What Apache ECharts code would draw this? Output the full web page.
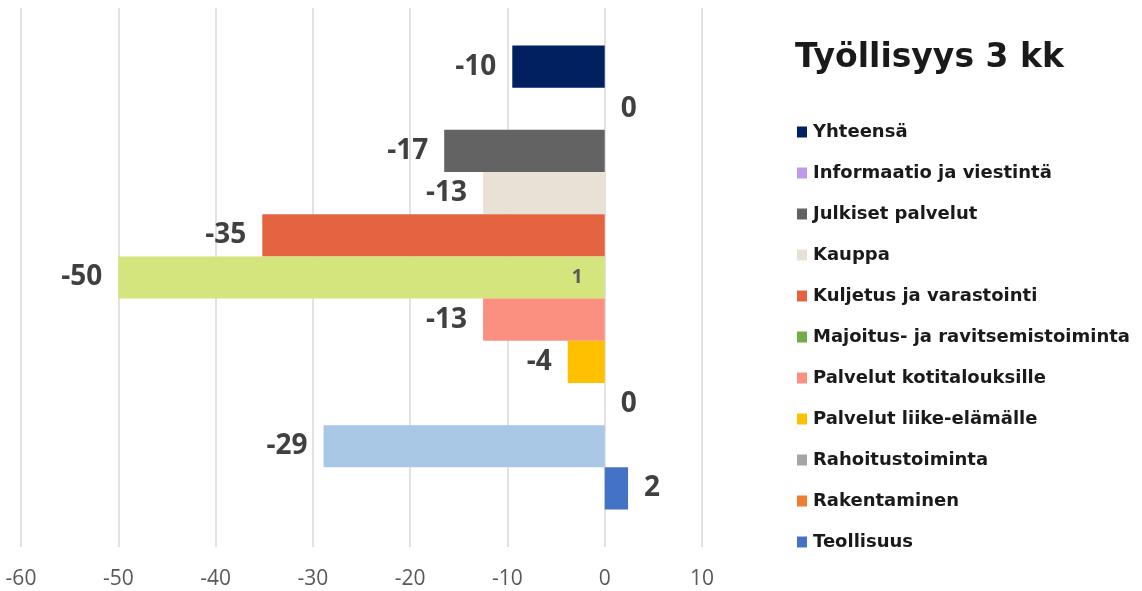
<!DOCTYPE html>
<html>
<head>
<meta charset="utf-8">
<script src="https://cdn.jsdelivr.net/npm/echarts@6/dist/echarts.min.js"></script>
<style>
html, body { margin: 0; padding: 0; background: #fff; }
#chart { width: 1142px; height: 591px; }
</style>
</head>
<body>
<div id="chart"></div>
<script>
// toimialat ylhäältä alas
var toimialat = ['Yhteensä', 'Informaatio ja viestintä', 'Julkiset palvelut', 'Kauppa',
  'Kuljetus ja varastointi', 'Majoitus- ja ravitsemistoiminta', 'Palvelut kotitalouksille',
  'Palvelut liike-elämälle', 'Rahoitustoiminta', 'Rakentaminen', 'Teollisuus'];
var muutos = [-9.5, 0, -16.5, -12.5, -35.2, -50, -12.5, -3.8, 0, -28.9, 2.4];
var legendColors = ['#002060', '#bf9ae8', '#636363', '#e7e0d5', '#e46240', '#70ad47',
  '#fb9080', '#ffc000', '#a5a5a5', '#ed7d31', '#4472c4'];
var barColors = ['#002060', '#bf9ae8', '#636363', '#e8e2d6', '#e46341', '#d4e57d',
  '#fb9080', '#ffc000', '#a5a5a5', '#a8c8e6', '#4472c4'];
var xTicks = [-60, 10, 10]; // min, max, interval
var lisaLabel = '1'; // pieni lisäotsake Majoitus-palkissa

function excelRound(v) {
  var r = Math.round(Math.abs(v));
  return v < 0 ? -r : r;
}

var mychart = echarts.init(document.getElementById('chart'));

var series = [];
for (let i = 0; i < toimialat.length; i++) {
  if (i === 5) {
    // apusarja samaan pinoon, vain otsake "1"
    series.push({
      name: 'apu',
      type: 'bar',
      stack: 'maj',
      data: [0],
      itemStyle: { color: 'transparent' },
      label: {
        show: true,
        position: 'left',
        distance: 22,
        formatter: lisaLabel,
        fontFamily: 'Open Sans',
        fontWeight: 'bold',
        fontSize: 19,
        color: '#595959'
      },
      silent: true
    });
  }
  series.push({
    name: toimialat[i],
    type: 'bar',
    stack: i === 5 ? 'maj' : 's' + i,
    barGap: '0%',
    barCategoryGap: '13.9%',
    itemStyle: { color: legendColors[i] },
    data: [{
      value: muutos[i],
      itemStyle: { color: barColors[i] },
      label: { position: muutos[i] < 0 ? 'left' : 'right' }
    }],
    label: {
      show: true,
      distance: 16,
      fontFamily: 'Open Sans',
      fontWeight: 'bold',
      fontSize: 28,
      color: '#404040',
      formatter: function (p) { return String(excelRound(p.value)); }
    }
  });
}

mychart.setOption({
  animation: false,
  title: {
    text: 'Työllisyys 3 kk',
    left: 790,
    top: 37,
    textStyle: {
      fontFamily: 'DejaVu Sans',
      fontWeight: 'bold',
      fontSize: 33,
      color: '#1a1a1a'
    }
  },
  legend: {
    data: toimialat,
    orient: 'vertical',
    left: 792,
    top: 117,
    itemWidth: 10,
    itemHeight: 11,
    itemGap: 21,
    icon: 'rect',
    textStyle: {
      fontFamily: 'DejaVu Sans',
      fontWeight: 'bold',
      fontSize: 18,
      lineHeight: 20,
      color: '#1a1a1a',
      padding: [0, 0, 0, 1]
    }
  },
  grid: {
    left: 21,
    right: 440,
    top: 8,
    bottom: 44,
    containLabel: false
  },
  xAxis: {
    type: 'value',
    min: xTicks[0],
    max: xTicks[1],
    interval: xTicks[2],
    axisLine: { show: false },
    axisTick: { show: false },
    splitLine: { lineStyle: { color: '#d9d9d9', width: 1.5 } },
    axisLabel: {
      margin: 22,
      fontFamily: 'Open Sans',
      fontSize: 21,
      color: '#595959'
    }
  },
  yAxis: {
    type: 'category',
    data: [''],
    axisLine: { show: false },
    axisTick: { show: false },
    axisLabel: { show: false },
    splitLine: { show: false }
  },
  series: series
});
</script>
</body>
</html>
